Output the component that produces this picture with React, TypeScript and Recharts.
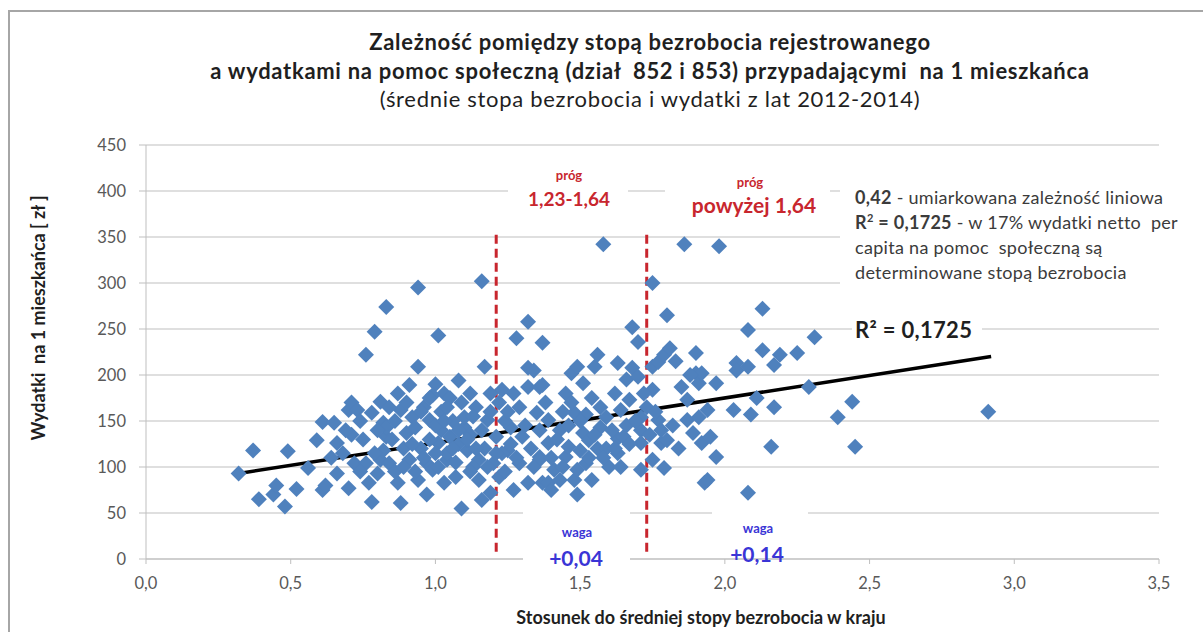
import React from "react";
import {
  CartesianGrid,
  ReferenceLine,
  Scatter,
  ScatterChart,
  XAxis,
  YAxis,
} from "recharts";

// stosunek do średniej stopy bezrobocia w kraju
const ratio = [
  0.32, 0.37, 0.39, 0.44, 0.45, 0.48, 0.49, 0.52, 0.56, 0.59, 0.61, 0.61, 0.62, 0.65, 0.66, 0.66,
  0.70, 0.70, 0.71, 0.71, 0.72, 0.73, 0.76, 0.76, 0.77, 0.78, 0.78, 0.79, 0.80, 0.81, 0.81, 0.82,
  0.82, 0.83, 0.83, 0.84, 0.83, 0.87, 0.88, 0.88, 0.90, 0.91, 0.91, 0.92, 0.94, 0.94, 0.94, 0.96,
  0.97, 0.97, 0.98, 0.99, 1.00, 1.01, 1.01, 1.02, 1.03, 1.03, 1.04, 1.05, 1.07, 1.08, 1.09, 1.09,
  1.10, 1.10, 1.11, 1.14, 1.15, 1.15, 1.16, 1.16, 1.17, 1.18, 1.19, 1.19, 1.20, 1.21, 1.22, 1.23,
  1.25, 1.26, 1.27, 1.27, 1.28, 1.29, 1.30, 1.32, 1.32, 1.32, 1.32, 1.34, 1.35, 1.36, 1.36, 1.36,
  1.37, 1.37, 1.37, 1.39, 1.39, 1.39, 1.40, 1.41, 1.43, 1.43, 1.45, 1.45, 1.46, 1.47, 1.48, 1.48,
  1.49, 1.49, 1.49, 1.50, 1.51, 1.51, 1.52, 1.52, 1.53, 1.54, 1.55, 1.56, 1.56, 1.57, 1.58, 1.59,
  1.60, 1.63, 1.63, 1.63, 1.64, 1.65, 1.66, 1.67, 1.68, 1.68, 1.70, 1.70, 1.71, 1.71, 1.71, 1.71,
  1.75, 1.75, 1.75, 1.75, 1.77, 1.77, 1.78, 1.78, 1.79, 1.79, 1.80, 1.80, 1.81, 1.85, 1.86, 1.87,
  1.87, 1.89, 1.90, 1.90, 1.91, 1.91, 1.92, 1.92, 1.93, 1.94, 1.94, 1.95, 1.97, 1.97, 1.98, 2.03,
  2.04, 2.04, 2.08, 2.08, 2.08, 2.09, 2.11, 2.13, 2.13, 2.16, 2.17, 2.17, 2.19, 2.25, 2.29, 2.31,
  2.39, 2.44, 2.45, 2.91,
  0.95, 0.98, 1.00, 1.02, 1.04, 1.06, 1.08, 0.89, 0.93, 1.12, 1.13, 0.86, 0.99, 1.05, 1.17, 1.23,
  1.24, 1.12, 1.44, 1.54, 1.59, 1.66, 1.73, 1.62, 1.58,
  0.85, 0.86, 0.89, 0.90, 0.92, 0.93, 0.95, 0.96, 0.98, 1.00, 1.01, 1.03, 1.04, 1.06, 1.07, 1.08,
  1.11, 1.12, 1.13, 1.14, 1.16, 1.18, 1.19, 1.21, 1.22, 1.24, 1.25, 1.26, 1.28, 1.29, 1.31, 1.33,
  1.34, 1.36, 1.38, 1.40, 1.42, 1.44, 1.46, 1.47, 1.50, 1.53, 1.55, 1.57, 1.61, 1.62, 1.64, 1.67,
  1.69, 1.72, 1.74, 1.76, 1.82, 1.84, 1.88, 1.83, 0.74, 0.75, 0.68, 0.64, 0.79, 0.80, 0.84, 0.87,
  0.69, 0.74,
];

// wydatki na 1 mieszkańca [zł]
const spending = [
  93, 118, 65, 70, 80, 57, 117, 76, 99, 129, 75, 149, 80, 148, 93, 126,
  77, 162, 170, 135, 104, 162, 222, 104, 83, 62, 159, 247, 93, 171, 108, 118,
  148, 133, 274, 104, 143, 83, 61, 162, 137, 189, 108, 154, 295, 209, 86, 165,
  104, 70, 151, 97, 190, 243, 126, 140, 180, 83, 108, 133, 89, 194, 170, 55,
  143, 154, 118, 165, 108, 86, 302, 64, 209, 151, 180, 72, 104, 133, 89, 184,
  118, 143, 180, 75, 240, 104, 133, 258, 208, 187, 83, 205, 159, 187, 111, 108,
  235, 189, 83, 151, 126, 83, 75, 97, 140, 86, 180, 111, 122, 202, 159, 86,
  209, 97, 70, 118, 191, 137, 157, 104, 129, 86, 209, 222, 120, 143, 342, 154,
  100, 213, 131, 115, 162, 133, 195, 173, 252, 208, 236, 198, 154, 140, 126, 97,
  300, 209, 184, 108, 214, 151, 140, 126, 222, 99, 265, 129, 229, 187, 342, 173,
  151, 137, 224, 202, 191, 154, 126, 202, 83, 162, 86, 133, 191, 111, 340, 162,
  213, 205, 249, 209, 72, 157, 175, 272, 227, 122, 211, 165, 222, 224, 187, 241,
  154, 171, 122, 160,
  120, 130, 145, 160, 115, 150, 125, 120, 143, 135, 100, 95, 178, 175, 120, 115,
  150, 180, 160, 175, 120, 145, 165, 180, 110,
  130, 150, 100, 170, 125, 95, 160, 110, 175, 115, 100, 150, 165, 120, 105, 140,
  130, 95, 155, 120, 140, 100, 160, 115, 170, 95, 160, 125, 110, 165, 145, 120,
  100, 140, 170, 110, 130, 100, 145, 170, 150, 110, 135, 165, 140, 120, 100, 125,
  150, 180, 135, 160, 145, 120, 200, 215, 150, 130, 115, 110, 115, 140, 165, 180,
  140, 95,
];

const points = ratio.map((x, i) => ({ x, y: spending[i] }));

const xTicks = [0, 0.5, 1, 1.5, 2, 2.5, 3, 3.5];
const yTicks = [0, 50, 100, 150, 200, 250, 300, 350, 400, 450];

// linia trendu i progi
const trendStart = { x: 0.32, y: 93 };
const trendEnd = { x: 2.92, y: 220 };
const thresholds = [1.21, 1.73];
const thresholdBottom = 8;
const thresholdTop = 357;

const FONT = "Lato, 'Open Sans', sans-serif";
const BLUE = "#4F81BD";
const RED = "#C8262E";
const INK = "#3B3B3B";
const WAGA = "#3A35D6";

const Diamond = (props: any) => {
  const { cx, cy } = props;
  if (cx == null || cy == null) return null;
  const r = 8;
  return (
    <polygon
      points={`${cx},${cy - r} ${cx + r},${cy} ${cx},${cy + r} ${cx - r},${cy}`}
      fill={BLUE}
    />
  );
};

const commaTick = (v: number) => v.toFixed(1).replace(".", ",");

const whiteBox = (left: number, top: number, width: number, height: number): React.CSSProperties => ({
  position: "absolute",
  left,
  top,
  width,
  height,
  background: "#fff",
});

const Note = ({
  x,
  y,
  size,
  color,
  children,
}: {
  x: number;
  y: number;
  size: number;
  color: string;
  children: React.ReactNode;
}) => (
  <div
    style={{
      position: "absolute",
      left: x,
      top: y,
      transform: "translate(-50%, -50%)",
      fontSize: size,
      fontWeight: 700,
      color,
      whiteSpace: "nowrap",
      lineHeight: 1,
    }}
  >
    {children}
  </div>
);

export default function App() {
  return (
    <div
      style={{
        position: "absolute",
        left: 0,
        top: 0,
        width: 1203,
        height: 632,
        overflow: "hidden",
        background: "#fff",
        fontFamily: FONT,
      }}
    >
      <div
        style={{
          position: "absolute",
          left: 8,
          top: 10,
          width: 1210,
          height: 640,
          border: "2px solid #A6A6A6",
          boxSizing: "border-box",
        }}
      />

      <div
        style={{
          position: "absolute",
          left: 150,
          width: 1000,
          top: 28,
          textAlign: "center",
          color: "#1F1F1F",
          lineHeight: "28.5px",
          letterSpacing: 0.7,
          whiteSpace: "nowrap",
        }}
      >
        <div style={{ fontSize: 22, fontWeight: 700 }}>Zależność pomiędzy stopą bezrobocia rejestrowanego</div>
        <div style={{ fontSize: 22, fontWeight: 700 }}>
          a wydatkami na pomoc społeczną (dział&nbsp; 852 i 853) przypadającymi&nbsp; na 1 mieszkańca
        </div>
        <div style={{ fontSize: 22, fontWeight: 400 }}>(średnie stopa bezrobocia i wydatki z lat 2012-2014)</div>
      </div>

      <div style={{ position: "absolute", left: 0, top: 0 }}>
        <ScatterChart
          width={1203}
          height={632}
          margin={{ top: 145, right: 44, bottom: 33, left: 76 }}
        >
          <CartesianGrid vertical={false} stroke="#D4D4D4" strokeWidth={1.5} />
          <XAxis
            type="number"
            dataKey="x"
            domain={[0, 3.5]}
            ticks={xTicks}
            tickFormatter={commaTick}
            height={40}
            stroke="#BFBFBF"
            tickSize={5}
            tickMargin={13}
            tick={{ fill: "#595959", fontSize: 16.5, fontFamily: FONT }}
          />
          <YAxis
            type="number"
            dataKey="y"
            domain={[0, 450]}
            ticks={yTicks}
            width={70}
            stroke="#BFBFBF"
            tickSize={7}
            tickMargin={13}
            tick={{ fill: "#595959", fontSize: 16.5, fontFamily: FONT }}
          />
          {thresholds.map((t) => (
            <ReferenceLine
              key={t}
              segment={[
                { x: t, y: thresholdBottom },
                { x: t, y: thresholdTop },
              ]}
              stroke={RED}
              strokeWidth={3}
              strokeDasharray="9 5"
            />
          ))}
          <Scatter data={points} shape={Diamond} isAnimationActive={false} />
          <ReferenceLine
            segment={[trendStart, trendEnd]}
            stroke="#000"
            strokeWidth={3.5}
          />
        </ScatterChart>
      </div>

      {/* white text boxes masking the gridlines */}
      <div style={whiteBox(508, 166, 120, 48)} />
      <div style={whiteBox(665, 166, 165, 52)} />
      <div style={whiteBox(840, 176, 330, 114)} />
      <div style={whiteBox(852, 313, 130, 32)} />
      <div style={whiteBox(523, 506, 107, 62)} />
      <div style={whiteBox(712, 506, 96, 40)} />

      <Note x={569} y={175} size={13} color={RED}>próg</Note>
      <Note x={569} y={198} size={19} color={RED}>1,23-1,64</Note>
      <Note x={750} y={182} size={13} color={RED}>próg</Note>
      <Note x={754} y={204} size={21} color={RED}>powyżej 1,64</Note>

      <Note x={577} y={532} size={13} color={WAGA}>waga</Note>
      <Note x={576} y={557} size={21} color={WAGA}>+0,04</Note>
      <Note x={758} y={528} size={13} color={WAGA}>waga</Note>
      <Note x={757} y={553} size={21} color={WAGA}>+0,14</Note>

      <div
        style={{
          position: "absolute",
          left: 855,
          top: 185,
          fontSize: 18,
          lineHeight: "25px",
          letterSpacing: 0.3,
          color: INK,
          whiteSpace: "nowrap",
        }}
      >
        <div>
          <b>0,42</b> - umiarkowana zależność liniowa
        </div>
        <div>
          <b>
            R<sup style={{ fontSize: 11, lineHeight: 0 }}>2</sup> = 0,1725
          </b>{" "}
          - w 17% wydatki netto&nbsp; per
        </div>
        <div>capita na pomoc&nbsp; społeczną są</div>
        <div>determinowane stopą bezrobocia</div>
      </div>

      <div
        style={{
          position: "absolute",
          left: 855,
          top: 330,
          transform: "translateY(-50%)",
          fontSize: 22,
          fontWeight: 700,
          letterSpacing: 0.3,
          lineHeight: 1,
          color: "#1F1F1F",
          whiteSpace: "nowrap",
        }}
      >
        R² = 0,1725
      </div>

      <Note x={701} y={617} size={18} color="#1F1F1F">
        Stosunek do średniej stopy bezrobocia w kraju
      </Note>

      <div
        style={{
          position: "absolute",
          left: 38,
          top: 318,
          transform: "translate(-50%, -50%) rotate(-90deg)",
          fontSize: 18,
          fontWeight: 700,
          lineHeight: 1,
          color: "#1F1F1F",
          whiteSpace: "nowrap",
        }}
      >
        Wydatki&nbsp; na 1 mieszkańca [ zł ]
      </div>
    </div>
  );
}
